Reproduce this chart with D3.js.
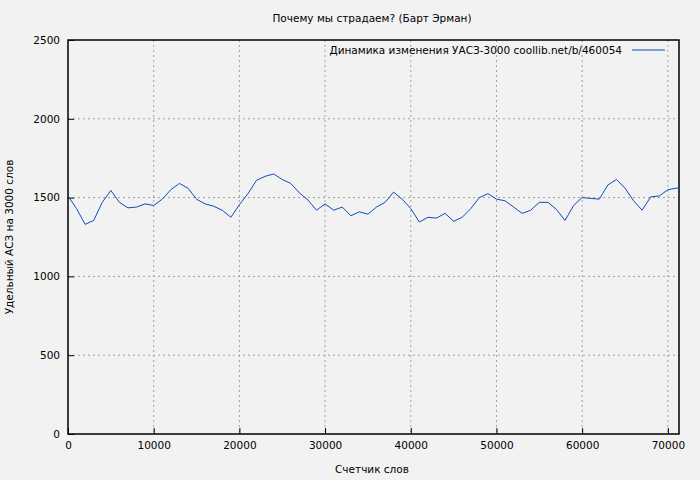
<!DOCTYPE html>
<html>
<head>
<meta charset="UTF-8">
<script src="https://cdnjs.cloudflare.com/ajax/libs/d3/7.8.5/d3.min.js"></script>
<style>
  body { margin: 0; background: #f2f2f2; }
  text { font-family: "DejaVu Sans", sans-serif; font-size: 10.5px; fill: #000; }
</style>
</head>
<body>
<div id="chart"></div>
<script>
// Data: words counter (step 1000) and specific ACZ value
var words = [];
for (var i = 0; i <= 71; i++) words.push(i * 1000);
var values = [1510, 1430, 1330, 1355, 1470, 1545, 1470, 1435, 1440, 1460,
              1450, 1490, 1550, 1590, 1560, 1490, 1460, 1445, 1420, 1375,
              1455, 1525, 1610, 1635, 1650, 1615, 1590, 1530, 1485, 1420,
              1460, 1420, 1440, 1385, 1410, 1395, 1440, 1470, 1535, 1490,
              1430, 1345, 1375, 1370, 1400, 1350, 1375, 1430, 1500, 1525,
              1490, 1480, 1440, 1400, 1420, 1470, 1470, 1425, 1355, 1450,
              1500, 1495, 1490, 1580, 1615, 1560, 1480, 1420, 1505, 1510,
              1550, 1560];
words.push(71300); values.push(1560);
var xTicks = [0, 10000, 20000, 30000, 40000, 50000, 60000, 70000];
var yTicks = [0, 500, 1000, 1500, 2000, 2500];

var w = 700, h = 480;
var pLeft = 68, pRight = 679, pTop = 40, pBottom = 434;

var svg = d3.select("#chart").append("svg").attr("width", w).attr("height", h);

var x = d3.scaleLinear().domain([0, 71300]).range([pLeft, pRight]);
var y = d3.scaleLinear().domain([0, 2500]).range([pBottom, pTop]);

// grid
svg.selectAll(".gx").data(xTicks.slice(1)).enter().append("line")
  .attr("x1", function(d) { return x(d); }).attr("x2", function(d) { return x(d); })
  .attr("y1", pTop).attr("y2", pBottom)
  .attr("stroke", "#a0a0a0").attr("stroke-dasharray", "2,3");
svg.selectAll(".gy").data(yTicks.slice(1, -1)).enter().append("line")
  .attr("x1", pLeft).attr("x2", pRight)
  .attr("y1", function(d) { return y(d); }).attr("y2", function(d) { return y(d); })
  .attr("stroke", "#a0a0a0").attr("stroke-dasharray", "2,3");

// axes
var xAxis = d3.axisBottom(x).tickValues(xTicks).tickSize(-6).tickPadding(8).tickFormat(d3.format("d"));
var yAxis = d3.axisLeft(y).tickValues(yTicks).tickSize(-6).tickPadding(8).tickFormat(d3.format("d"));
var gx = svg.append("g").attr("transform", "translate(0," + pBottom + ")").call(xAxis);
var gy = svg.append("g").attr("transform", "translate(" + pLeft + ",0)").call(yAxis);
[gx, gy].forEach(function(g) {
  g.select(".domain").remove();
  g.selectAll("text").style("font-size", "10.5px").style("font-family", "DejaVu Sans, sans-serif");
  g.selectAll("line").attr("stroke", "#000");
});
svg.append("rect").attr("x", pLeft).attr("y", pTop)
  .attr("width", pRight - pLeft).attr("height", pBottom - pTop)
  .attr("fill", "none").attr("stroke", "#000").attr("stroke-width", 1.5);

// line
var line = d3.line().x(function(d, i) { return x(words[i]); }).y(function(d) { return y(d); });
svg.append("path").datum(values).attr("d", line)
  .attr("fill", "none").attr("stroke", "#0b4fb8").attr("stroke-width", 1);

// titles
svg.append("text").attr("x", 372).attr("y", 22).attr("text-anchor", "middle")
  .text("Почему мы страдаем? (Барт Эрман)");
svg.append("text").attr("x", 372).attr("y", 473).attr("text-anchor", "middle")
  .text("Счетчик слов");
svg.append("text").attr("transform", "translate(13,237) rotate(-90)").attr("text-anchor", "middle")
  .text("Удельный АСЗ на 3000 слов");

// legend
svg.append("text").attr("x", 622).attr("y", 54).attr("text-anchor", "end")
  .text("Динамика изменения УАСЗ-3000  coollib.net/b/460054");
svg.append("line").attr("x1", 632).attr("x2", 665).attr("y1", 50).attr("y2", 50)
  .attr("stroke", "#0b4fb8");
</script>
</body>
</html>
